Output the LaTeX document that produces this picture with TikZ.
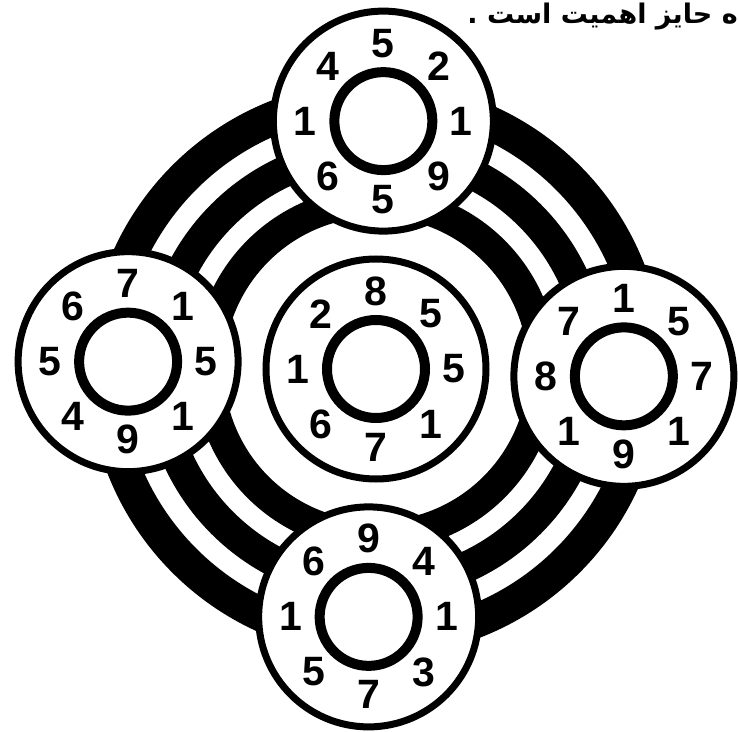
\documentclass[tikz,border=0pt]{standalone}
\usepackage{fontspec}
\setmainfont{Liberation Sans}
\newfontfamily\arabicfont[Script=Arabic]{DejaVu Sans}
\TeXXeTstate=1
\tikzset{
  dial/.style={circle, draw=black, fill=white, line width=7pt,
    minimum size=220pt, inner sep=0pt},
  hub/.style={circle, draw=black, line width=10pt,
    minimum size=98pt, inner sep=0pt},
  digit/.style={font=\bfseries\fontsize{41}{41}\selectfont, inner sep=0pt},
  band/.style={draw=black, line width=#1}
}

\begin{document}
\begin{tikzpicture}[x=1pt, y=1pt]
  \useasboundingbox (-376,-362) rectangle (362,369);

  % black rings
  \coordinate (mid) at (0,0);
  \draw[band=34pt] (mid) circle [radius=271pt];
  \draw[band=31pt] (mid) circle [radius=217.5pt];
  \draw[band=30pt] (mid) circle [radius=167pt];

  % wheels
  \node[dial] (centre) at (mid) {};
  \node[dial] (top) at (88.3:248) {};
  \node[dial] (right) at (-1.7:248) {};
  \node[dial] (bottom) at (268.3:248) {};
  \node[dial] (left) at (178.3:248) {};
  \foreach \s in {centre, top, right, bottom, left}
    \node[hub] (\s-hub) at (\s) {};

  % numbers, clockwise from the top
  \foreach \s/\list in {centre/{8,5,5,1,7,6,1,2}, top/{5,2,1,9,5,6,1,4},
      right/{1,5,7,1,9,1,8,7}, bottom/{9,4,1,3,7,5,1,6},
      left/{7,1,5,1,9,4,5,6}}
    \foreach \d [count=\i] in \list
      \node[digit] (\s-\i) at ([shift={(135-45*\i:78)}]\s.center) {\d};

  \node[anchor=north east, inner sep=0pt,
    font=\arabicfont\bfseries\fontsize{27}{27}\selectfont] (note) at (362,366)
    {\beginR ه حایز اهمیت است .\endR};
\end{tikzpicture}
\end{document}
